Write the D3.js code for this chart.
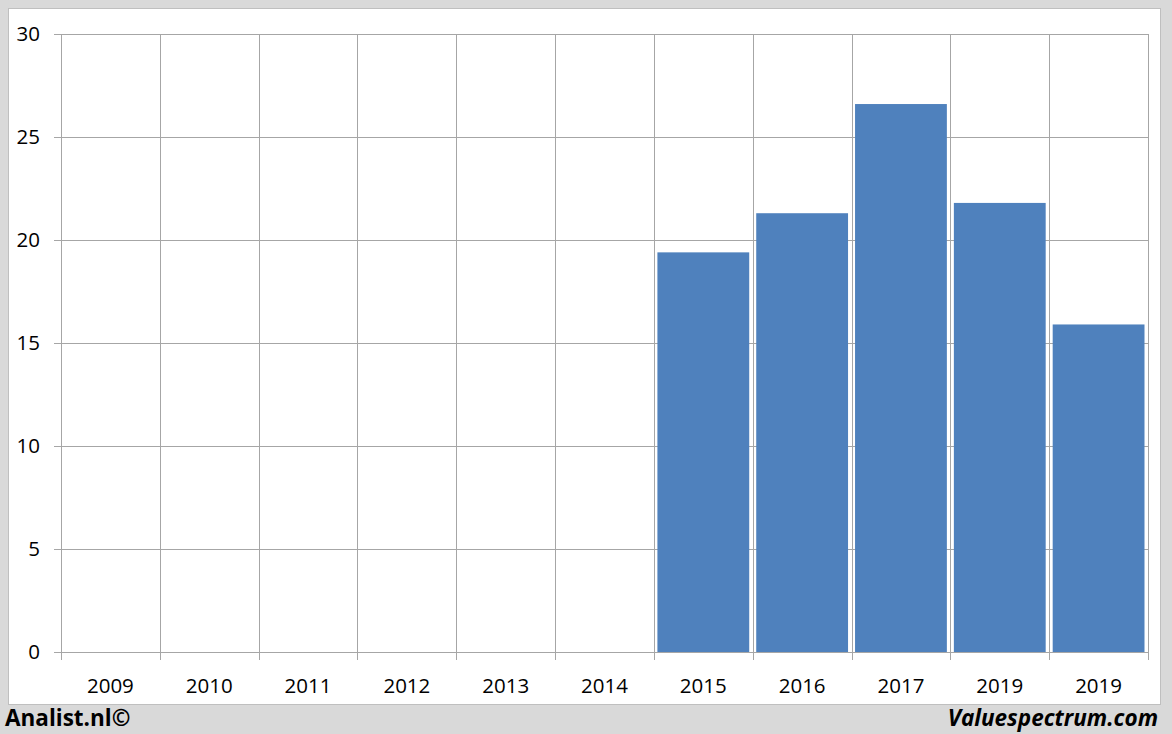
<!DOCTYPE html>
<html>
<head>
<meta charset="utf-8">
<script src="https://cdn.jsdelivr.net/npm/d3@7"></script>
<style>
  html, body { margin: 0; padding: 0; background: #d9d9d9; }
  svg { display: block; }
</style>
</head>
<body>
<svg id="chart" width="1172" height="734"></svg>
<script>
const categories = ["2009","2010","2011","2012","2013","2014","2015","2016","2017","2019","2019"];
const values = [null, null, null, null, null, null, 19.4, 21.3, 26.6, 21.8, 15.9];
const yTicks = [0, 5, 10, 15, 20, 25, 30];
const footerLeft = "Analist.nl©";
const footerRight = "Valuespectrum.com";

(function () {
const W = 1172, H = 734;
const svg = d3.select("#chart");

// background & panel
svg.append("rect").attr("x", 0).attr("y", 0).attr("width", W).attr("height", H).attr("fill", "#d9d9d9");
svg.append("rect").attr("x", 8.5).attr("y", 8.5).attr("width", 1152).attr("height", 696)
  .attr("fill", "#ffffff").attr("stroke", "#bfbfbf").attr("stroke-width", 1);

const pLeft = 61, pRight = 1148, pTop = 34, pBottom = 652;
const idx = categories.map((d, i) => i);
const x = d3.scaleBand().domain(idx).range([pLeft, pRight]).paddingInner(0).paddingOuter(0);
const y = d3.scaleLinear().domain([0, 30]).range([pBottom, pTop]);

const font = "'Open Sans', 'Liberation Sans', sans-serif";
const gridColor = "#a6a6a6";

// horizontal gridlines
svg.append("g").selectAll("line").data(yTicks).join("line")
  .attr("x1", pLeft - 7).attr("x2", pRight)
  .attr("y1", d => Math.round(y(d)) + 0.5).attr("y2", d => Math.round(y(d)) + 0.5)
  .attr("stroke", gridColor).attr("stroke-width", 1);

// vertical gridlines at band boundaries
const bounds = idx.map(i => x(i)).concat([pRight]);
svg.append("g").selectAll("line").data(bounds).join("line")
  .attr("x1", d => Math.round(d) + 0.5).attr("x2", d => Math.round(d) + 0.5)
  .attr("y1", pTop).attr("y2", pBottom + 8)
  .attr("stroke", gridColor).attr("stroke-width", 1);

// bars
const pad = 3.5;
svg.append("g").selectAll("rect").data(values.map((v, i) => ({v, i})).filter(d => d.v != null)).join("rect")
  .attr("x", d => x(d.i) + pad)
  .attr("width", x.bandwidth() - 2 * pad)
  .attr("y", d => y(d.v))
  .attr("height", d => y(0) - y(d.v))
  .attr("fill", "#4f81bd");

// y labels
svg.append("g").selectAll("text").data(yTicks).join("text")
  .attr("x", 40).attr("y", d => y(d))
  .attr("dy", "0.36em")
  .attr("text-anchor", "end")
  .attr("font-family", font).attr("font-size", 20.5).attr("fill", "#000")
  .text(d => d);

// x labels
svg.append("g").selectAll("text").data(idx).join("text")
  .attr("x", i => x(i) + x.bandwidth() / 2).attr("y", 693)
  .attr("text-anchor", "middle")
  .attr("font-family", font).attr("font-size", 20.5).attr("fill", "#000")
  .text(i => categories[i]);

// footer
svg.append("text").attr("x", 5).attr("y", 726)
  .attr("font-family", font).attr("font-weight", "bold").attr("font-size", 22.5).attr("fill", "#000")
  .text(footerLeft);
svg.append("text").attr("x", 1158).attr("y", 726).attr("text-anchor", "end")
  .attr("font-family", font).attr("font-weight", "bold").attr("font-style", "italic").attr("font-size", 22.5).attr("fill", "#000")
  .text(footerRight);
})();
</script>
</body>
</html>
